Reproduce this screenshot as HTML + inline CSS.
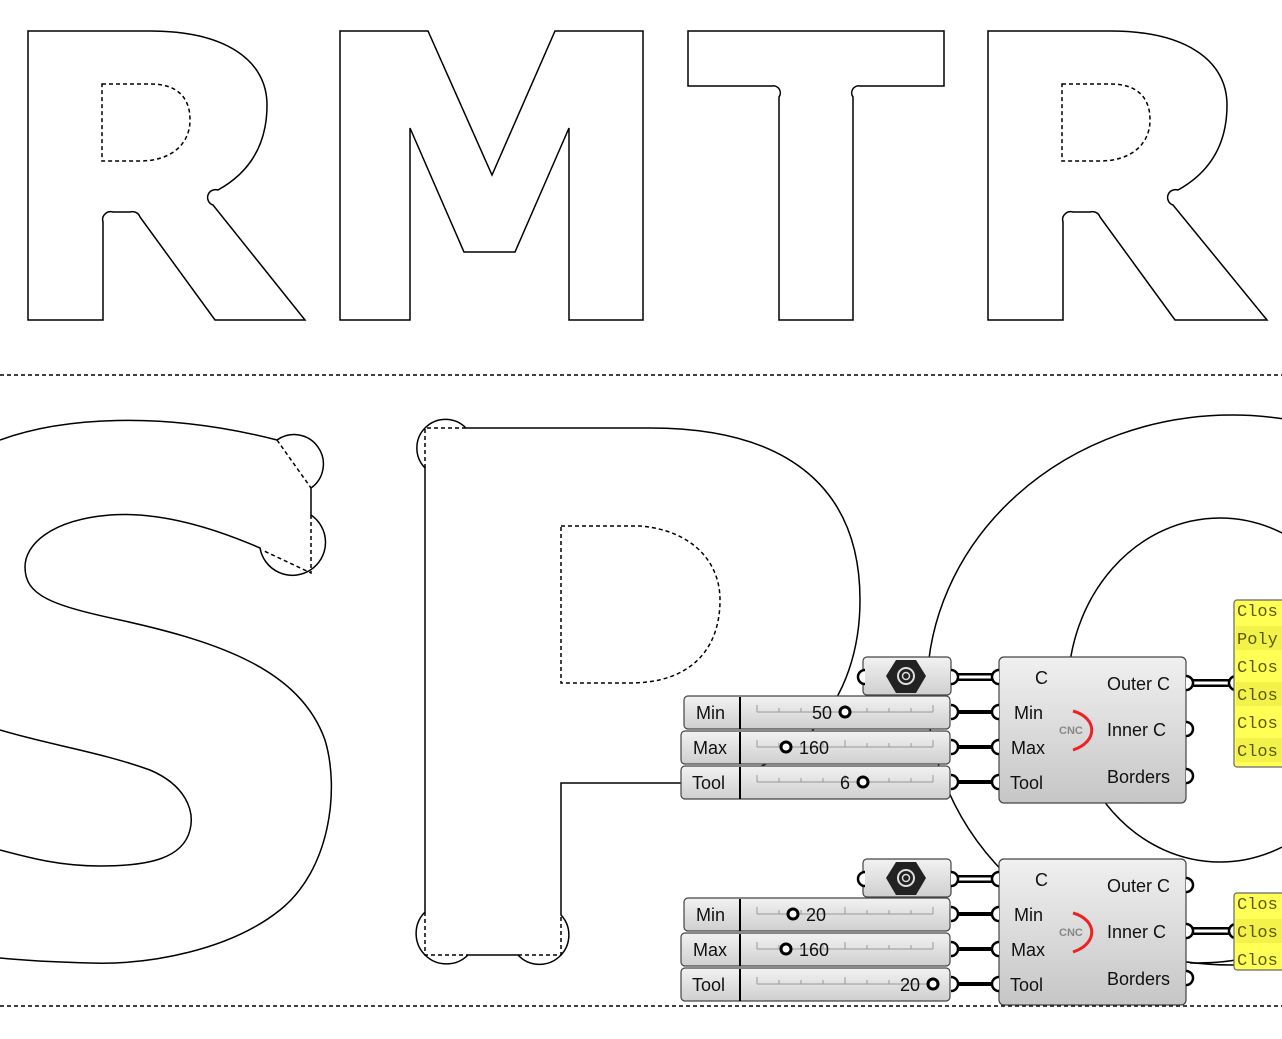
<!DOCTYPE html>
<html><head><meta charset="utf-8"><style>
html,body{margin:0;padding:0;background:#fff;}
svg{display:block;}
.t{font-family:"Liberation Sans",sans-serif;font-size:18px;fill:#111;}
.p{font-family:"Liberation Mono",monospace;font-size:17px;fill:#5a5a00;}
</style></head><body>
<svg width="1282" height="1039" viewBox="0 0 1282 1039" xmlns="http://www.w3.org/2000/svg">
<defs>
<linearGradient id="g" x1="0" y1="0" x2="0" y2="1"><stop offset="0" stop-color="#f0f0f0"/><stop offset="1" stop-color="#c6c6c6"/></linearGradient>
<linearGradient id="gs" x1="0" y1="0" x2="0" y2="1"><stop offset="0" stop-color="#f2f2f2"/><stop offset="1" stop-color="#cfcfcf"/></linearGradient>
</defs>
<g fill="none" stroke="#000" stroke-width="1.5">
<!-- R1 -->
<path d="M28,31 L150,31 C225,31 267,60 267,105 C267,150 245,175 218,190 A6,6 0 0 0 213,205 L305,320 L215,320 L140,217 A8,8 0 0 0 130,212 L113,212 A8,8 0 0 0 103,222 L103,320 L28,320 Z"/>
<path d="M102,84 L150,84 C180,84 190,100 190,120 C190,145 170,161 140,161 L102,161 Z" stroke-dasharray="4,3"/>
<!-- M -->
<path d="M340,31 L428,31 L492,175 L555,31 L643,31 L643,320 L569,320 L569,128 L515,252 L464,252 L410,128 L410,320 L340,320 Z"/>
<!-- T -->
<path d="M688,31 L944,31 L944,86 L860,86 A7,7 0 0 0 853,97 L853,320 L779,320 L779,97 A7,7 0 0 0 772,86 L688,86 Z"/>
<!-- R2 -->
<g transform="translate(960,0)">
<path d="M28,31 L150,31 C225,31 267,60 267,105 C267,150 245,175 218,190 A6,6 0 0 0 213,205 L307,320 L215,320 L140,217 A8,8 0 0 0 130,212 L113,212 A8,8 0 0 0 103,222 L103,320 L28,320 Z"/>
<path d="M102,84 L150,84 C180,84 190,100 190,120 C190,145 170,161 140,161 L102,161 Z" stroke-dasharray="4,3"/>
</g>
<line x1="0" y1="375" x2="1282" y2="375" stroke-dasharray="4,3"/>
<line x1="0" y1="1006" x2="1282" y2="1006" stroke-dasharray="4,3"/>
<!-- S -->
<path d="M0,440 C60,418 160,410 277,440 A20,20 0 0 1 311,488 L311,515 A33,33 0 1 1 260,548 C200,522 150,512 110,515 C50,520 25,545 25,567 C25,595 50,605 120,620 C220,642 300,670 325,740 C340,790 330,870 280,910 C230,950 150,965 90,963 C50,962 20,960 0,958"/>
<path d="M0,730 C50,745 100,752 150,770 C185,785 195,810 190,830 C183,858 150,866 100,866 C60,866 30,858 0,850"/>
<path d="M277,440 L311,488 M311,515 L311,573 L262,550" stroke-dasharray="4,3"/>
<!-- P -->
<path d="M466,428 L650,428 C790,428 860,490 860,600 C860,700 800,780 680,783 L561,783 L561,915 A27,27 0 0 1 518,955 L468,955 A27,27 0 0 1 425,912 L425,468 A27,27 0 0 1 466,428"/>
<path d="M425,468 L425,428 L466,428 M425,912 L425,955 L468,955 M518,955 L561,955 L561,915" stroke-dasharray="4,3"/>
<path d="M561,526 L640,526 C690,530 720,560 720,600 C720,650 690,683 630,683 L561,683 Z" stroke-dasharray="4,3"/>
<!-- O -->
<ellipse cx="1232" cy="690" rx="305" ry="275"/>
<ellipse cx="1220" cy="690" rx="152" ry="172"/>
<path d="M1190,963 C1210,963 1225,962 1235,960"/>
</g>

<!-- Grasshopper group generator -->
<g id="grp1">
<!-- wires -->
<g stroke="#000" stroke-width="4" fill="none">
<line x1="955" y1="712" x2="997" y2="712"/><line x1="955" y1="747" x2="997" y2="747"/><line x1="955" y1="782" x2="997" y2="782"/>
</g>
<g fill="none"><line x1="955" y1="677" x2="997" y2="677" stroke="#000" stroke-width="8"/><line x1="955" y1="677" x2="997" y2="677" stroke="#fff" stroke-width="3"/>
<line x1="1190" y1="683" x2="1232" y2="683" stroke="#000" stroke-width="8"/><line x1="1190" y1="683" x2="1232" y2="683" stroke="#fff" stroke-width="3"/></g>
</g>
<!-- components drawn via repeated code -->
<g stroke="#444" stroke-width="1.2">
<!-- Curve param top -->
<rect x="863" y="657" width="88" height="38" rx="4" fill="url(#gs)"/>
<rect x="863" y="859" width="88" height="38" rx="4" fill="url(#gs)"/>
<!-- sliders top -->
<rect x="684" y="696" width="266" height="33" rx="4" fill="url(#gs)"/>
<rect x="681" y="731" width="269" height="33" rx="4" fill="url(#gs)"/>
<rect x="681" y="766" width="269" height="33" rx="4" fill="url(#gs)"/>
<rect x="684" y="898" width="266" height="33" rx="4" fill="url(#gs)"/>
<rect x="681" y="933" width="269" height="33" rx="4" fill="url(#gs)"/>
<rect x="681" y="968" width="269" height="33" rx="4" fill="url(#gs)"/>
<!-- components -->
<rect x="999" y="657" width="187" height="146" rx="5" fill="url(#g)"/>
<rect x="999" y="859" width="187" height="146" rx="5" fill="url(#g)"/>
</g>
<g stroke="#000" stroke-width="2">
<line x1="740" y1="697" x2="740" y2="729"/><line x1="740" y1="732" x2="740" y2="764"/><line x1="740" y1="767" x2="740" y2="799"/>
<line x1="740" y1="899" x2="740" y2="931"/><line x1="740" y1="934" x2="740" y2="966"/><line x1="740" y1="969" x2="740" y2="1001"/>
</g>
<!-- tick tracks -->
<g stroke="#999" stroke-width="1" fill="none">
<path d="M757,712 L933,712 M757,747 L933,747 M757,782 L933,782 M757,914 L933,914 M757,949 L933,949 M757,984 L933,984"/>
<path d="M757,705v7M779,708v4M801,708v4M823,708v4M845,705v7M867,708v4M889,708v4M911,708v4M933,705v7"/>
<path d="M757,740v7M779,743v4M801,743v4M823,743v4M845,740v7M867,743v4M889,743v4M911,743v4M933,740v7"/>
<path d="M757,775v7M779,778v4M801,778v4M823,778v4M845,775v7M867,778v4M889,778v4M911,778v4M933,775v7"/>
<path d="M757,907v7M779,910v4M801,910v4M823,910v4M845,907v7M867,910v4M889,910v4M911,910v4M933,907v7"/>
<path d="M757,942v7M779,945v4M801,945v4M823,945v4M845,942v7M867,945v4M889,945v4M911,945v4M933,942v7"/>
<path d="M757,977v7M779,980v4M801,980v4M823,980v4M845,977v7M867,980v4M889,980v4M911,980v4M933,977v7"/>
</g>
<!-- knobs -->
<g fill="#fff" stroke="#000" stroke-width="3">
<circle cx="845" cy="712" r="5"/><circle cx="786" cy="747" r="5"/><circle cx="863" cy="782" r="5"/>
<circle cx="793" cy="914" r="5"/><circle cx="786" cy="949" r="5"/><circle cx="933" cy="984" r="5"/>
</g>
<!-- bottom wires -->
<g stroke="#000" stroke-width="4" fill="none">
<line x1="955" y1="914" x2="997" y2="914"/><line x1="955" y1="949" x2="997" y2="949"/><line x1="955" y1="984" x2="997" y2="984"/>
</g>
<g fill="none"><line x1="955" y1="879" x2="997" y2="879" stroke="#000" stroke-width="8"/><line x1="955" y1="879" x2="997" y2="879" stroke="#fff" stroke-width="3"/>
<line x1="1190" y1="931" x2="1232" y2="931" stroke="#000" stroke-width="8"/><line x1="1190" y1="931" x2="1232" y2="931" stroke="#fff" stroke-width="3"/></g>
<!-- grips -->
<g fill="#fff" stroke="#000" stroke-width="2.5">
<path d="M865,670 A7,7 0 0 0 865,684"/><path d="M865,872 A7,7 0 0 0 865,886"/>
<path d="M951,670 A7,7 0 0 1 951,684"/><path d="M951,705 A7,7 0 0 1 951,719"/><path d="M951,740 A7,7 0 0 1 951,754"/><path d="M951,775 A7,7 0 0 1 951,789"/>
<path d="M951,872 A7,7 0 0 1 951,886"/><path d="M951,907 A7,7 0 0 1 951,921"/><path d="M951,942 A7,7 0 0 1 951,956"/><path d="M951,977 A7,7 0 0 1 951,991"/>
<path d="M999,670 A7,7 0 0 0 999,684"/><path d="M999,705 A7,7 0 0 0 999,719"/><path d="M999,740 A7,7 0 0 0 999,754"/><path d="M999,775 A7,7 0 0 0 999,789"/>
<path d="M999,872 A7,7 0 0 0 999,886"/><path d="M999,907 A7,7 0 0 0 999,921"/><path d="M999,942 A7,7 0 0 0 999,956"/><path d="M999,977 A7,7 0 0 0 999,991"/>
<path d="M1186,676 A7,7 0 0 1 1186,690"/><path d="M1186,722 A7,7 0 0 1 1186,736"/><path d="M1186,769 A7,7 0 0 1 1186,783"/>
<path d="M1186,878 A7,7 0 0 1 1186,892"/><path d="M1186,924 A7,7 0 0 1 1186,938"/><path d="M1186,971 A7,7 0 0 1 1186,985"/>
<path d="M1236,676 A7,7 0 0 0 1236,690"/><path d="M1236,924 A7,7 0 0 0 1236,938"/>
</g>
<!-- hex icons -->
<g>
<polygon points="896,660 916,660 926,676 916,693 896,693 886,676" fill="#222"/>
<circle cx="906" cy="676" r="8" fill="none" stroke="#ddd" stroke-width="2"/>
<circle cx="906" cy="676" r="3.5" fill="none" stroke="#ddd" stroke-width="1.5"/>
<polygon points="896,862 916,862 926,878 916,895 896,895 886,878" fill="#222"/>
<circle cx="906" cy="878" r="8" fill="none" stroke="#ddd" stroke-width="2"/>
<circle cx="906" cy="878" r="3.5" fill="none" stroke="#ddd" stroke-width="1.5"/>
</g>
<!-- CNC icons -->
<g fill="none" stroke="#e22" stroke-width="3">
<path d="M1073,711 C1098,718 1098,742 1073,750"/>
<path d="M1073,913 C1098,920 1098,944 1073,952"/>
</g>
<g font-family="Liberation Sans,sans-serif" font-size="11" fill="#888" font-weight="bold">
<text x="1059" y="734">CNC</text><text x="1059" y="936">CNC</text>
</g>
<!-- labels -->
<g class="t">
<text x="696" y="719">Min</text><text x="693" y="754">Max</text><text x="692" y="789">Tool</text>
<text x="696" y="921">Min</text><text x="693" y="956">Max</text><text x="692" y="991">Tool</text>
<text x="832" y="719" text-anchor="end">50</text><text x="799" y="754">160</text><text x="850" y="789" text-anchor="end">6</text>
<text x="806" y="921">20</text><text x="799" y="956">160</text><text x="920" y="991" text-anchor="end">20</text>
<text x="1035" y="684">C</text><text x="1014" y="719">Min</text><text x="1011" y="754">Max</text><text x="1010" y="789">Tool</text>
<text x="1107" y="690">Outer C</text><text x="1107" y="736">Inner C</text><text x="1107" y="783">Borders</text>
<text x="1035" y="886">C</text><text x="1014" y="921">Min</text><text x="1011" y="956">Max</text><text x="1010" y="991">Tool</text>
<text x="1107" y="892">Outer C</text><text x="1107" y="938">Inner C</text><text x="1107" y="985">Borders</text>
</g>
<!-- panels -->
<rect x="1234" y="600" width="60" height="167" rx="3" fill="#ffff55" stroke="#666" stroke-width="1.2"/>
<rect x="1234" y="893" width="60" height="77" rx="3" fill="#ffff55" stroke="#666" stroke-width="1.2"/>
<g fill="#f2f24a"><rect x="1236" y="626" width="46" height="24"/><rect x="1236" y="682" width="46" height="24"/><rect x="1236" y="738" width="46" height="24"/><rect x="1236" y="919" width="46" height="24"/></g>
<g class="p">
<text x="1237" y="616">Clos</text><text x="1237" y="644">Poly</text><text x="1237" y="672">Clos</text><text x="1237" y="700">Clos</text><text x="1237" y="728">Clos</text><text x="1237" y="756">Clos</text>
<text x="1237" y="909">Clos</text><text x="1237" y="937">Clos</text><text x="1237" y="965">Clos</text>
</g>
</svg>
</body></html>
